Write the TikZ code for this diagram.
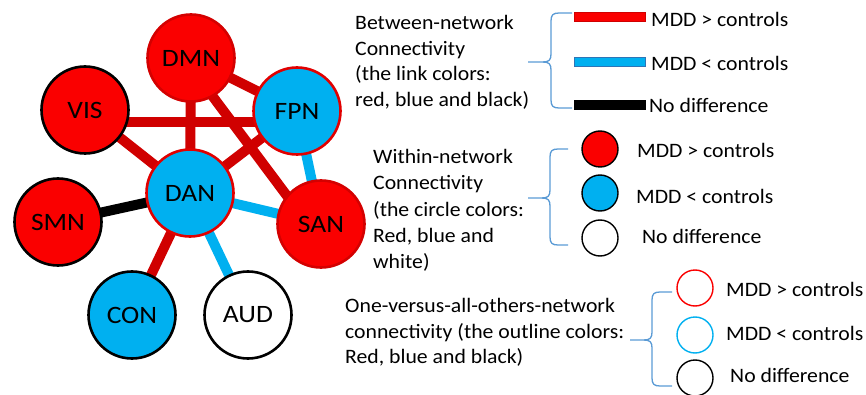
\documentclass[tikz,border=0pt]{standalone}
\usepackage{fontspec}
\setmainfont{Carlito}[FakeStretch=1.06]
\newfontfamily\nodefont{Carlito}[FakeStretch=1.1]
\usetikzlibrary{calc}
\definecolor{nred}{RGB}{250,0,0}
\definecolor{ered}{RGB}{208,0,0}
\definecolor{nblue}{RGB}{0,176,240}
\definecolor{bardark}{RGB}{46,117,182}
\definecolor{bracec}{RGB}{91,155,213}
\tikzset{
  net/.style={circle, minimum size=87pt, inner sep=0pt, line width=2.6pt, font=\nodefont\fontsize{25}{28}\selectfont},
  link/.style={line width=10pt},
  legtext/.style={anchor=base west, inner sep=0pt, font=\fontsize{20.5}{24}\selectfont},
  legcirc/.style={circle, minimum size=36pt, inner sep=0pt, line width=1.4pt},
  bracepath/.style={draw=bracec, line width=1.3pt},
}
\newcommand{\mybrace}[6]{% v, top, bottom, tip y, arm end x, tip x
  \draw[bracepath] (#5,#2) -- (#1+8,#2) .. controls (#1+2,#2) and (#1,#2+2) .. (#1,#2+8)
     -- (#1,#4-8) .. controls (#1,#4-2) and (#1-2,#4) .. (#1-8,#4) -- (#6,#4);
  \draw[bracepath] (#5,#3) -- (#1+8,#3) .. controls (#1+2,#3) and (#1,#3-2) .. (#1,#3-8)
     -- (#1,#4+8) .. controls (#1,#4+2) and (#1-2,#4) .. (#1-8,#4);
}
\pgfdeclarelayer{bg}
\pgfsetlayers{bg,main}
\begin{document}
\begin{tikzpicture}[x=1pt,y=-1pt]
\useasboundingbox (0,0) rectangle (866,395);
% nodes
\node[net, fill=nred, draw=nred!85!black] (DMN) at (191,58) {DMN};
\node[net, fill=nred, draw=black] (VIS) at (85,110) {VIS};
\node[net, fill=nblue, draw=nred!90!black] (FPN) at (297,111) {FPN};
\node[net, fill=nblue, draw=nred!90!black] (DAN) at (190,193) {DAN};
\node[net, fill=nred, draw=black] (SMN) at (58,222) {SMN};
\node[net, fill=nred, draw=nred!85!black] (SAN) at (321,224) {SAN};
\node[net, fill=nblue, draw=black] (CON) at (132,315) {CON};
\node[net, fill=white, draw=black] (AUD) at (248,315) {AUD};
% links (behind)
\begin{pgfonlayer}{bg}
\draw[link, ered] ($(VIS)+(0,12)$) -- ($(FPN)+(0,11)$);
\draw[link, ered] (VIS.center) -- (DAN.center);
\draw[link, ered] (DMN.center) -- (DAN.center);
\draw[link, ered] (DMN.center) -- (FPN.center);
\draw[link, ered] ($(DMN)+(-7,0)$) -- ($(SAN)+(-13,0)$);
\draw[link, ered] (DAN.center) -- (FPN.center);
\draw[link, nblue] (FPN.center) -- (SAN.center);
\draw[link, nblue] (DAN.center) -- (SAN.center);
\draw[link, black] (DAN.center) -- (SMN.center);
\draw[link, ered] (DAN.center) -- (CON.center);
\draw[link, nblue] (DAN.center) -- (AUD.center);
\end{pgfonlayer}
% legend 1
\node[legtext] (b1a) at (355,30) {Between-network};
\node[legtext] (b1b) at (355,56) {Connectivity};
\node[legtext] (b1c) at (355,81) {(the link colors:};
\node[legtext] (b1d) at (355,107) {red, blue and black)};
\mybrace{551}{13}{108}{62}{572}{528}
\filldraw[fill=nred, draw=ered, line width=0.5pt] (574,12) rectangle (645,21);
\filldraw[fill=nblue, draw=bardark, line width=1pt] (574,58) rectangle (645,67);
\filldraw[fill=black, draw=black] (574,100) rectangle (645,109);
\node[legtext] (l1a) at (651,27) {MDD > controls};
\node[legtext] (l1b) at (651,71) {MDD < controls};
\node[legtext] (l1c) at (649,113) {No difference};
% legend 2
\node[legtext] (b2a) at (373,164) {Within-network};
\node[legtext] (b2b) at (373,190) {Connectivity};
\node[legtext] (b2c) at (373,216) {(the circle colors:};
\node[legtext] (b2d) at (373,242) {Red, blue and};
\node[legtext] (b2e) at (373,268) {white)};
\mybrace{550}{149}{245}{198}{568}{528}
\node[legcirc, fill=nred, draw=black] (c2a) at (600,149) {};
\node[legcirc, fill=nblue, draw=black] (c2b) at (600,193) {};
\node[legcirc, fill=white, draw=black] (c2c) at (600,238) {};
\node[legtext] (l2a) at (637,158) {MDD > controls};
\node[legtext] (l2b) at (636,204) {MDD < controls};
\node[legtext] (l2c) at (642,243) {No difference};
% legend 3
\node[legtext] (b3a) at (345,312) {One-versus-all-others-network};
\node[legtext] (b3b) at (345,338) {connectivity (the outline colors:};
\node[legtext] (b3c) at (345,363) {Red, blue and black)};
\mybrace{652}{292}{386}{340}{672}{630}
\node[legcirc, fill=white, draw=nred] (c3a) at (695,288) {};
\node[legcirc, fill=white, draw=nblue] (c3b) at (695,335) {};
\node[legcirc, fill=white, draw=black] (c3c) at (695,378) {};
\node[legtext] (l3a) at (726,296) {MDD > controls};
\node[legtext] (l3b) at (726,340) {MDD < controls};
\node[legtext] (l3c) at (730,382) {No difference};
\end{tikzpicture}
\end{document}
